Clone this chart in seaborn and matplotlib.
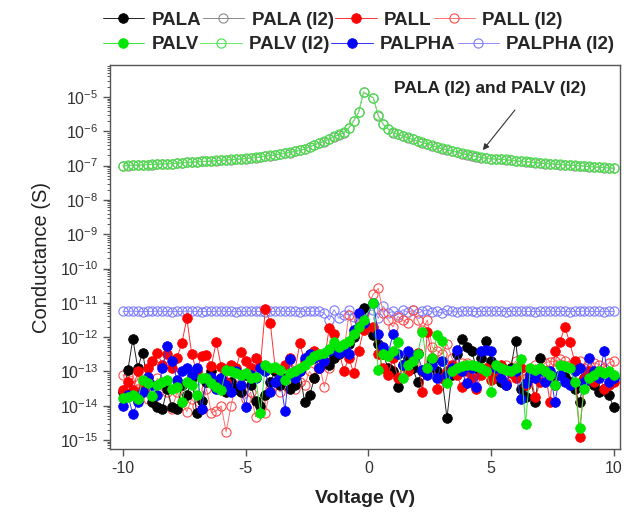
import numpy as np
import pandas as pd
import matplotlib
matplotlib.use("Agg")
import matplotlib.pyplot as plt
import seaborn as sns
from matplotlib.ticker import LogLocator, NullFormatter, FixedLocator

# ---------------- data ----------------
# voltage sweep (V = 0 excluded: conductance undefined there)
voltage = np.round(np.concatenate([np.arange(-10, -0.1, 0.2), np.arange(0.2, 10.01, 0.2)]), 1)

# log10 of conductance (S)
log_pala = [
    -13.60, -12.95, -12.05, -12.90, -12.45, -13.30, -13.90, -14.05, -14.10, -13.50,
    -14.05, -14.10, -13.40, -13.70, -13.20, -14.20, -13.85, -13.30, -13.00, -13.40,
    -13.20, -13.60, -13.30, -13.50, -13.60, -13.10, -13.40, -13.85, -14.00, -13.70,
    -13.30, -13.00, -13.40, -13.20, -13.50, -13.40, -13.00, -13.90, -13.70, -13.20,
    -12.90, -12.70, -12.80, -12.60, -12.50, -12.40, -12.20, -12.00, -11.70, -11.15,
    -11.95, -12.20, -12.50, -12.90, -13.00, -13.45, -12.80, -12.60, -12.90, -13.30,
    -13.00, -12.90, -12.70, -13.00, -13.20, -14.35, -13.10, -12.50, -12.05, -12.30,
    -12.40, -12.90, -12.60, -12.10, -12.70, -13.10, -13.30, -13.40, -12.90, -12.10,
    -13.50, -13.75, -13.20, -13.90, -12.60, -13.00, -13.20, -13.40, -13.10, -13.15,
    -13.30, -13.50, -13.90, -13.20, -13.10, -13.40, -13.60, -13.50, -13.70, -14.05,
]
log_pala_i2 = [
    -7.01, -7.00, -6.99, -6.99, -6.98, -6.97, -6.97, -6.96, -6.95, -6.95,
    -6.94, -6.93, -6.92, -6.91, -6.90, -6.89, -6.88, -6.88, -6.87, -6.86,
    -6.85, -6.84, -6.83, -6.82, -6.81, -6.80, -6.78, -6.77, -6.75, -6.73,
    -6.71, -6.69, -6.67, -6.64, -6.62, -6.59, -6.56, -6.52, -6.46, -6.40,
    -6.34, -6.30, -6.23, -6.16, -6.10, -6.04, -5.91, -5.70, -5.45, -4.87,
    -5.03, -5.55, -5.80, -5.94, -6.04, -6.09, -6.14, -6.19, -6.24, -6.29,
    -6.33, -6.37, -6.42, -6.47, -6.51, -6.54, -6.58, -6.61, -6.65, -6.68,
    -6.71, -6.74, -6.77, -6.79, -6.81, -6.81, -6.82, -6.83, -6.85, -6.86,
    -6.88, -6.89, -6.90, -6.92, -6.93, -6.94, -6.95, -6.96, -6.97, -6.98,
    -6.99, -7.00, -7.01, -7.02, -7.03, -7.04, -7.05, -7.06, -7.07, -7.08,
]
log_pall = [
    -13.55, -13.30, -13.55, -13.00, -13.50, -12.90, -12.70, -12.45, -12.80, -12.50,
    -12.90, -12.60, -12.17, -11.45, -12.50, -13.00, -12.55, -12.52, -12.85, -12.13,
    -12.86, -13.30, -12.80, -12.90, -12.42, -12.70, -12.90, -12.60, -12.80, -11.18,
    -11.58, -12.90, -13.20, -12.80, -12.60, -13.00, -12.18, -12.70, -12.50, -12.40,
    -12.90, -12.70, -11.73, -11.90, -12.40, -13.00, -12.60, -13.05, -12.40, -11.80,
    -11.70, -12.50, -12.90, -13.10, -12.60, -13.20, -12.80, -13.00, -12.60, -12.45,
    -13.60, -11.85, -12.60, -13.50, -13.20, -13.00, -12.80, -13.10, -13.45, -13.00,
    -13.20, -13.50, -13.10, -12.90, -13.25, -13.00, -12.80, -13.35, -13.05, -13.20,
    -12.90, -13.40, -13.10, -13.75, -13.30, -13.00, -13.90, -12.40, -12.15, -11.70,
    -12.15, -12.70, -14.90, -13.20, -13.00, -13.30, -13.10, -13.50, -13.40, -13.30,
]
log_pall_i2 = [
    -13.10, -13.13, -13.15, -13.50, -13.30, -13.80, -13.50, -13.20, -13.40, -13.60,
    -14.10, -13.60, -13.90, -14.17, -13.80, -14.00, -14.10, -13.50, -14.20, -14.15,
    -14.00, -14.76, -14.00, -13.40, -13.45, -13.80, -13.60, -14.32, -13.90, -14.20,
    -13.50, -13.40, -13.60, -13.40, -13.20, -13.50, -13.30, -13.40, -13.00, -13.20,
    -12.80, -13.44, -12.90, -12.60, -12.30, -12.40, -11.36, -11.90, -11.50, -11.30,
    -10.75, -10.58, -11.30, -11.50, -11.70, -11.40, -11.50, -11.60, -11.21, -11.50,
    -11.80, -11.50, -12.30, -12.40, -12.50, -12.20, -12.60, -12.90, -12.76, -12.76,
    -13.00, -12.90, -13.05, -13.00, -12.90, -13.20, -13.00, -12.80, -12.90, -12.70,
    -13.00, -13.20, -13.10, -12.80, -12.90, -12.75, -12.71, -12.70, -12.65, -12.70,
    -12.80, -12.75, -12.70, -12.90, -12.80, -12.75, -12.80, -12.90, -12.75, -12.70,
]
log_palv = [
    -13.78, -13.75, -13.70, -13.80, -13.25, -13.35, -13.72, -13.40, -13.30, -13.25,
    -13.50, -13.45, -13.88, -13.30, -13.40, -13.69, -13.19, -13.20, -13.35, -13.45,
    -13.54, -12.96, -13.00, -13.05, -13.10, -13.05, -13.20, -13.15, -14.20, -12.81,
    -12.90, -12.88, -12.95, -13.25, -13.05, -13.00, -12.90, -12.80, -12.67, -12.55,
    -12.50, -12.45, -12.35, -12.13, -12.30, -12.20, -12.10, -11.90, -11.70, -11.50,
    -11.01, -12.96, -12.50, -12.55, -12.40, -12.13, -13.20, -12.80, -12.70, -12.50,
    -11.84, -12.90, -12.60, -11.94, -12.10, -13.35, -13.00, -12.90, -12.85, -12.80,
    -12.80, -12.85, -12.90, -13.00, -13.59, -12.80, -12.90, -12.95, -13.00, -12.90,
    -12.65, -14.52, -12.90, -12.95, -12.90, -13.00, -13.10, -13.40, -12.80, -12.85,
    -12.90, -13.30, -14.66, -13.50, -13.20, -13.10, -13.00, -13.05, -13.00, -13.10,
]
log_palv_i2 = [
    -7.00, -6.99, -6.99, -6.98, -6.98, -6.97, -6.96, -6.96, -6.95, -6.94,
    -6.94, -6.93, -6.92, -6.91, -6.90, -6.89, -6.88, -6.87, -6.86, -6.85,
    -6.84, -6.83, -6.82, -6.81, -6.80, -6.79, -6.77, -6.76, -6.74, -6.72,
    -6.70, -6.68, -6.66, -6.63, -6.61, -6.58, -6.55, -6.51, -6.45, -6.39,
    -6.33, -6.29, -6.22, -6.15, -6.09, -6.03, -5.90, -5.69, -5.44, -4.85,
    -5.02, -5.54, -5.79, -5.93, -6.03, -6.08, -6.13, -6.18, -6.23, -6.28,
    -6.32, -6.36, -6.41, -6.46, -6.50, -6.53, -6.57, -6.60, -6.64, -6.67,
    -6.70, -6.73, -6.76, -6.78, -6.80, -6.80, -6.81, -6.82, -6.84, -6.86,
    -6.87, -6.88, -6.89, -6.91, -6.92, -6.93, -6.94, -6.95, -6.96, -6.97,
    -6.98, -6.99, -7.00, -7.01, -7.02, -7.03, -7.04, -7.05, -7.06, -7.07,
]
log_palpha = [
    -14.00, -13.70, -14.25, -13.90, -13.60, -13.15, -13.40, -13.70, -12.90, -12.26,
    -12.70, -13.25, -13.00, -12.90, -13.10, -12.90, -14.10, -13.20, -13.15, -13.50,
    -13.20, -13.40, -13.60, -13.00, -13.40, -14.03, -13.10, -13.20, -12.90, -13.00,
    -13.60, -13.30, -13.20, -14.15, -12.65, -13.20, -13.00, -12.60, -12.50, -12.60,
    -12.90, -12.70, -12.40, -12.30, -12.45, -12.30, -12.50, -11.80, -11.30, -11.60,
    -11.00, -11.90, -12.30, -12.50, -11.90, -12.50, -12.80, -12.40, -12.60, -12.50,
    -12.96, -13.10, -12.80, -13.20, -12.70, -13.10, -12.90, -12.38, -13.00, -13.35,
    -12.90, -13.45, -12.40, -12.38, -12.40, -12.90, -13.20, -13.40, -12.95, -13.00,
    -13.80, -13.35, -13.10, -13.20, -13.00, -13.30, -13.00, -13.90, -13.10, -13.30,
    -13.40, -13.00, -12.90, -13.30, -12.62, -13.00, -13.20, -12.40, -13.30, -13.20,
]
log_palpha_i2 = [
    -11.25, -11.25, -11.24, -11.25, -11.26, -11.25, -11.25, -11.24, -11.25, -11.25,
    -11.26, -11.25, -11.25, -11.24, -11.25, -11.25, -11.26, -11.25, -11.25, -11.25,
    -11.24, -11.25, -11.25, -11.26, -11.25, -11.25, -11.24, -11.25, -11.25, -11.26,
    -11.25, -11.25, -11.24, -11.25, -11.25, -11.25, -11.26, -11.25, -11.25, -11.24,
    -11.25, -11.30, -11.50, -11.20, -11.45, -11.35, -11.20, -11.40, -11.50, -11.30,
    -11.20, -11.45, -11.10, -11.30, -11.25, -11.35, -11.20, -11.28, -11.22, -11.30,
    -11.25, -11.20, -11.28, -11.25, -11.30, -11.22, -11.25, -11.27, -11.25, -11.24,
    -11.25, -11.26, -11.25, -11.25, -11.24, -11.25, -11.25, -11.26, -11.25, -11.25,
    -11.24, -11.25, -11.25, -11.26, -11.25, -11.25, -11.24, -11.25, -11.25, -11.25,
    -11.26, -11.25, -11.25, -11.24, -11.25, -11.25, -11.25, -11.26, -11.25, -11.25,
]

legend_row1 = ["PALA", "PALA (I2)", "PALL", "PALL (I2)"]
legend_row2 = ["PALV", "PALV (I2)", "PALPHA", "PALPHA (I2)"]

# ---------------- style ----------------
sns.set_theme(style="ticks")
plt.rcParams["font.family"] = ["Liberation Sans", "DejaVu Sans"]
plt.rcParams["mathtext.fontset"] = "custom"
plt.rcParams["mathtext.rm"] = "Liberation Sans"
plt.rcParams["mathtext.it"] = "Liberation Sans:italic"
plt.rcParams["mathtext.bf"] = "Liberation Sans:bold"
plt.rcParams["axes.unicode_minus"] = False

fig = plt.figure(figsize=(6.29, 5.16), dpi=100)
ax = fig.add_axes([0.1749, 0.1298, 0.8108, 0.7442])

# (label, log values, marker color, line color, filled, zorder)
specs = [
    ("PALA (I2)", log_pala_i2, "#8a8a8a", "#8a8a8a", False, 2),
    ("PALPHA (I2)", log_palpha_i2, "#7a7aff", "#8c8cff", False, 3),
    ("PALL (I2)", log_pall_i2, "#ff4a4a", "#ff7070", False, 4),
    ("PALA", log_pala, "#000000", "#222222", True, 5),
    ("PALL", log_pall, "#ff0000", "#ff3030", True, 6),
    ("PALPHA", log_palpha, "#0000ff", "#3030ff", True, 7),
    ("PALV", log_palv, "#00e600", "#33e633", True, 8),
    ("PALV (I2)", log_palv_i2, "#44e644", "#66ee66", False, 9),
]

for label, vals, mc, lc, filled, z in specs:
    df = pd.DataFrame({"Voltage (V)": voltage, "Conductance (S)": 10.0 ** np.asarray(vals)})
    sns.lineplot(
        data=df, x="Voltage (V)", y="Conductance (S)", ax=ax,
        color=lc, lw=0.7, marker="o", markersize=7.0 if filled else 6.6,
        markerfacecolor=mc if filled else "none", markeredgecolor=mc,
        markeredgewidth=0.5 if filled else 0.8,
        label=label, zorder=z, estimator=None, sort=False,
    )

ax.set_yscale("log")
ax.set_xlim(-10.53, 10.25)
ax.set_ylim(10 ** -15.26, 10 ** -4.07)

ax.xaxis.set_major_locator(FixedLocator([-10, -5, 0, 5, 10]))
ax.yaxis.set_major_locator(LogLocator(base=10, numticks=30))
ax.yaxis.set_minor_locator(LogLocator(base=10, subs=np.arange(2, 10), numticks=300))
ax.yaxis.set_minor_formatter(NullFormatter())

for s in ax.spines.values():
    s.set_color("#555555")
    s.set_linewidth(1.0)
ax.tick_params(axis="both", which="major", direction="out", length=5, width=1.0,
               color="#555555", labelsize=11.5, labelcolor="#333333")
ax.tick_params(axis="y", which="minor", direction="out", length=2.5, width=0.7, color="#555555")

ax.set_xlabel("Voltage (V)", fontsize=14, fontweight="bold", color="#222222", labelpad=10)
ax.set_ylabel("Conductance (S)", fontsize=14.5, color="#222222", labelpad=6)

# annotation
ax.text(4.95, 10 ** -4.74, "PALA (I2) and PALV (I2)", fontsize=12.5, fontweight="bold",
        ha="center", va="center", color="#222222")
ax.annotate("", xy=(4.66, 10 ** -6.55), xytext=(5.97, 10 ** -5.38),
            arrowprops=dict(arrowstyle="-|>", color="#333333", lw=0.8,
                            mutation_scale=9, shrinkA=0, shrinkB=0))

# legend: two independently flowed rows
handles, labels = ax.get_legend_handles_labels()
hmap = dict(zip(labels, handles))
ax.get_legend().remove()
common = dict(loc="center left", ncol=4, frameon=False, columnspacing=0.1,
              handlelength=2.2, handletextpad=0.4, borderpad=0, borderaxespad=0,
              prop={"weight": "bold", "size": 13.5})
leg1 = fig.legend([hmap[l] for l in legend_row1], legend_row1,
                  bbox_to_anchor=(0.163, 0.961), **common)
leg2 = fig.legend([hmap[l] for l in legend_row2], legend_row2,
                  bbox_to_anchor=(0.163, 0.913), **common)

fig.savefig("out.png", dpi=100)
